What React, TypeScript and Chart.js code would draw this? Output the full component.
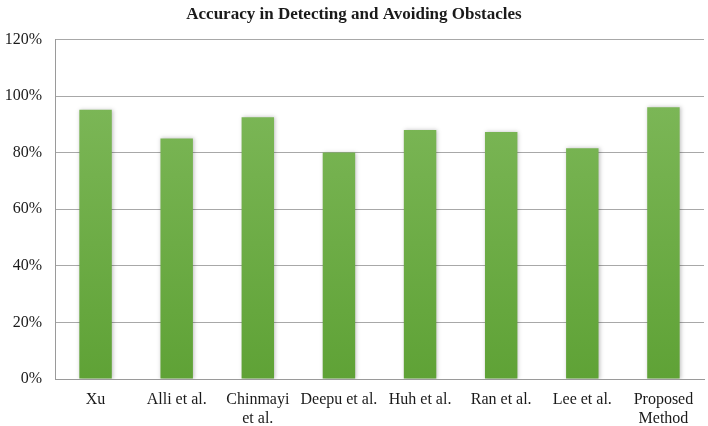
import React, { useEffect, useRef } from "react";
import { Chart, registerables } from "chart.js";

Chart.register(...registerables);

const categories: (string | string[])[] = [
  "Xu",
  "Alli et al.",
  ["Chinmayi", "et al."],
  "Deepu et al.",
  "Huh et al.",
  "Ran et al.",
  "Lee et al.",
  ["Proposed", "Method"],
];
const accuracy = [0.951, 0.85, 0.925, 0.8, 0.88, 0.873, 0.815, 0.96];
const yTicks = [0, 0.2, 0.4, 0.6, 0.8, 1.0, 1.2];

const FONT = "'Liberation Serif', 'Times New Roman', serif";

const barShadow = {
  id: "barShadow",
  beforeDatasetsDraw(chart: any) {
    const c = chart.ctx;
    c.save();
    c.shadowColor = "rgba(0,0,0,0.25)";
    c.shadowBlur = 4;
    c.shadowOffsetX = 1;
    c.shadowOffsetY = 0;
  },
  afterDatasetsDraw(chart: any) {
    chart.ctx.restore();
  },
};

export default function App() {
  const ref = useRef<HTMLCanvasElement | null>(null);
  useEffect(() => {
    document.body.style.margin = "0";
    const canvas = ref.current!;
    const chart = new Chart(canvas, {
      type: "bar",
      data: {
        labels: categories,
        datasets: [
          {
            data: accuracy,
            backgroundColor: (ctx: any) => {
              const { chart } = ctx;
              const area = chart.chartArea;
              if (!area) return "#6fae48";
              const g = chart.ctx.createLinearGradient(0, area.top, 0, area.bottom);
              g.addColorStop(0, "#82bb5e");
              g.addColorStop(1, "#5fa236");
              return g;
            },
            borderWidth: 0,
            categoryPercentage: 1,
            barPercentage: 0.4,
          },
        ],
      },
      plugins: [barShadow],
      options: {
        responsive: false,
        animation: false,
        devicePixelRatio: 1,
        layout: { padding: { left: 4, right: 4, top: 2, bottom: 0 } },
        plugins: {
          legend: { display: false },
          tooltip: { enabled: false },
          title: {
            display: true,
            text: "Accuracy in Detecting and Avoiding Obstacles",
            color: "#1a1a1a",
            font: { family: FONT, size: 17, weight: "bold" },
            padding: { top: 2, bottom: 15 },
          },
        },
        scales: {
          x: {
            grid: { display: false, drawTicks: false },
            border: { display: true, color: "#9a9a9a", width: 1 },
            afterFit: (axis: any) => {
              axis.height = 47;
            },
            ticks: {
              color: "#1a1a1a",
              font: { family: FONT, size: 16, lineHeight: 1.15 },
              padding: 12,
              maxRotation: 0,
              autoSkip: false,
            },
          },
          y: {
            min: 0,
            max: 1.2,
            afterBuildTicks: (axis: any) => {
              axis.ticks = yTicks.map((v) => ({ value: v }));
            },
            afterFit: (axis: any) => {
              axis.width = 51;
            },
            grid: { color: "#a8a8a8", drawTicks: false, lineWidth: 1 },
            border: { display: true, color: "#9a9a9a", width: 1 },
            ticks: {
              color: "#1a1a1a",
              font: { family: FONT, size: 16 },
              padding: 13,
              callback: (v: any) => Math.round(Number(v) * 100) + "%",
            },
          },
        },
      },
    } as any);
    return () => chart.destroy();
  }, []);
  return (
    <div style={{ width: 708, height: 426 }}>
      <canvas ref={ref} width={708} height={426} />
    </div>
  );
}
